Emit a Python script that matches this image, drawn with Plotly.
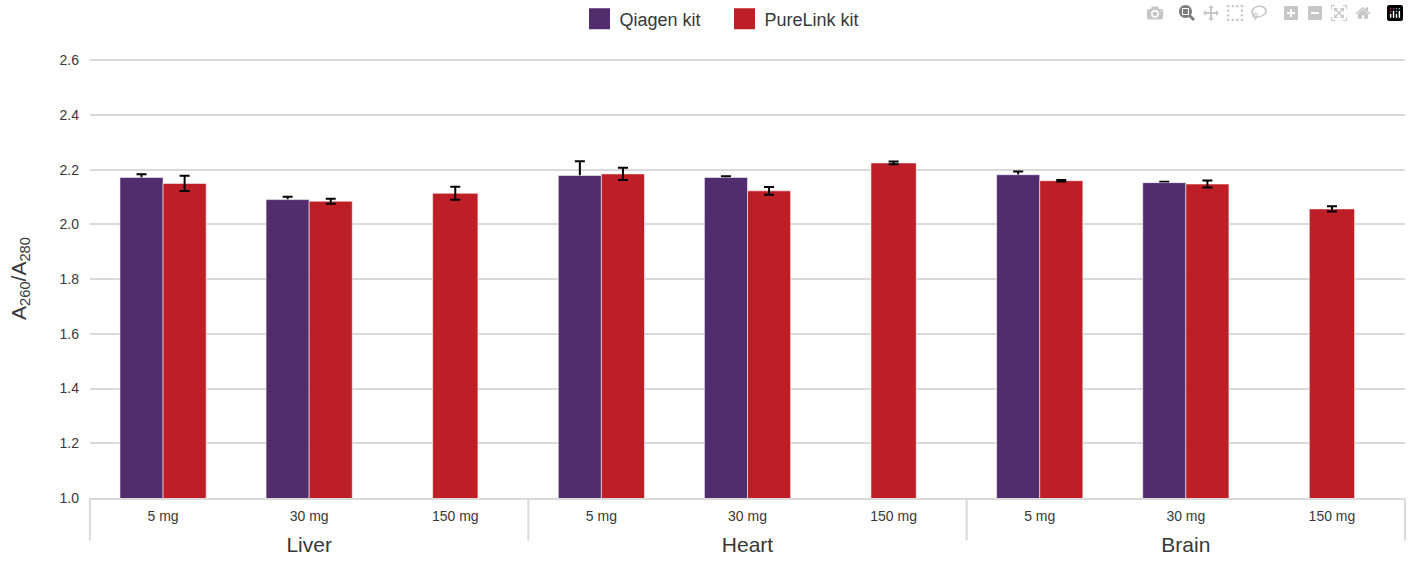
import plotly.graph_objects as go

organs = ["Liver", "Heart", "Brain"]
doses = ["5 mg", "30 mg", "150 mg"]

qiagen = [2.172, 2.091, None, 2.179, 2.172, None, 2.182, 2.153, None]
qiagen_err = [0.012, 0.010, None, 0.052, 0.004, None, 0.012, 0.003, None]
purelink = [2.150, 2.085, 2.114, 2.185, 2.123, 2.225, 2.160, 2.148, 2.057]
purelink_err = [0.028, 0.009, 0.024, 0.022, 0.014, 0.005, 0.003, 0.013, 0.010]

PURPLE = "#522D6E"
RED = "#BE1F26"
FONT = "Liberation Sans"
TXT = "#383838"
GRID = "#dadada"

organ_lbl = [f"<br><span style='font-size:30px'><sub>{o}</sub></span>" for o in organs]
dose_lbl = [f"<span style='font-size:14px'>{d}</span>" for d in doses]
x_lvl1 = [organ_lbl[i] for i in range(len(organs)) for _ in doses]
x_lvl2 = [d for _ in organs for d in dose_lbl]
x = [x_lvl1, x_lvl2]

# PureLink bars sharing the slot with a Qiagen bar vs. alone in the slot
pl_pair = [p if q is not None else None for p, q in zip(purelink, qiagen)]
pl_pair_err = [e if q is not None else None for e, q in zip(purelink_err, qiagen)]
pl_alone = [p if q is None else None for p, q in zip(purelink, qiagen)]
pl_alone_err = [e if q is None else None for e, q in zip(purelink_err, qiagen)]

W = 0.295
W_ALONE = 0.31
line = dict(color="rgba(255,255,255,0.55)", width=1)
err_style = dict(type="data", color="black", thickness=2, width=5, visible=True)

fig = go.Figure()
# Qiagen error bars drawn underneath the Qiagen bars (only the upper part shows)
fig.add_trace(go.Bar(x=x, y=qiagen, offset=-W, width=W,
                     marker=dict(color="rgba(0,0,0,0)", line=dict(width=0)),
                     error_y=dict(array=qiagen_err, **err_style),
                     showlegend=False, hoverinfo="skip"))
fig.add_trace(go.Bar(x=x, y=qiagen, offset=-W, width=W, name="Qiagen kit",
                     marker=dict(color=PURPLE, line=line), showlegend=False))
fig.add_trace(go.Bar(x=x, y=pl_pair, offset=0, width=W, name="PureLink kit",
                     marker=dict(color=RED, line=line), showlegend=False,
                     error_y=dict(array=pl_pair_err, **err_style)))
fig.add_trace(go.Bar(x=x, y=pl_alone, offset=-W_ALONE / 2, width=W_ALONE, name="PureLink kit",
                     marker=dict(color=RED, line=line), showlegend=False,
                     error_y=dict(array=pl_alone_err, **err_style)))
# legend entries
for nm, col in [("Qiagen kit", PURPLE), ("PureLink kit", RED)]:
    fig.add_trace(go.Scatter(x=[None], y=[None], mode="markers", name=nm,
                             marker=dict(symbol="square", size=16, color=col,
                                         line=dict(color=col, width=5))))

# group dividers below the axis (edges of each organ group)
n_groups = len(organs)
shapes = [dict(type="line", xref="paper", yref="paper",
               x0=i / n_groups, x1=i / n_groups, y0=0, y1=-0.097,
               line=dict(color=GRID, width=2), layer="below")
          for i in range(n_groups + 1)]

fig.update_layout(
    width=1409, height=561,
    barmode="overlay",
    paper_bgcolor="white", plot_bgcolor="white",
    font=dict(family=FONT, color=TXT, size=14),
    margin=dict(l=90, r=4, t=59, b=63, autoexpand=False),
    shapes=shapes,
    legend=dict(orientation="h", x=0.4825, xanchor="center",
                y=1.091, yanchor="middle",
                font=dict(size=18, color=TXT), itemsizing="trace",
                entrywidth=100, traceorder="normal"),
    xaxis=dict(type="multicategory", showline=True, linecolor=GRID, linewidth=2,
               showdividers=False,
               tickfont=dict(size=11, color=TXT), showgrid=False,
               ticks="", ticklabelstandoff=8,
               automargin=False),
    yaxis=dict(range=[1.0, 2.605], tickvals=[1.0, 1.2, 1.4, 1.6, 1.8, 2.0, 2.2, 2.4, 2.6],
               tickformat=".1f", showgrid=True, gridcolor=GRID, gridwidth=2,
               zeroline=False, showline=False, ticks="", ticklabelstandoff=10,
               tickfont=dict(size=14, color=TXT), automargin=False,
               title=dict(text="A<sub>260</sub>/A<sub>280</sub>", font=dict(size=21, color=TXT),
                          standoff=27)),
)

# remove the browser's default 8px page margin so the figure fills the window
fig.write_html("out.html",
               post_script="document.body.style.margin='0';document.body.style.overflow='hidden';")
